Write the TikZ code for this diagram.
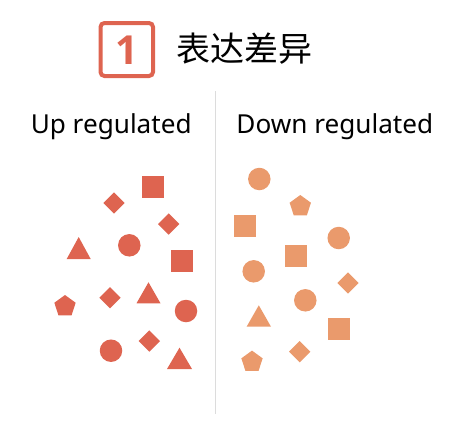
\documentclass[tikz,border=0pt]{standalone}
\usepackage{fontspec}
\setmainfont{Noto Sans}
\newfontfamily\cjk{Noto Sans CJK SC}
\newfontfamily\numfont{Open Sans}
\usetikzlibrary{shapes.geometric}
\definecolor{upc}{HTML}{DE6450}
\definecolor{dnc}{HTML}{EA9A6C}
\definecolor{sepc}{HTML}{DCDCDC}
\begin{document}
\begin{tikzpicture}[x=0.75pt,y=-0.75pt,
  shp/.style={inner sep=0pt,outer sep=0pt,draw=none},
  circ/.style={shp,circle,minimum size=22.5*0.75pt},
  sq/.style={shp,rectangle,minimum size=22*0.75pt},
  dia/.style={shp,diamond,minimum size=21.4*0.75pt},
  pent/.style={shp,regular polygon,regular polygon sides=5,minimum size=22.4*0.75pt},
  lbl/.style={inner sep=0pt,anchor=base,font=\fontsize{19.6}{23}\selectfont}]
\useasboundingbox (0,0) rectangle (464,436);
% header
\draw[upc,line width=4*0.75pt,rounded corners=4*0.75pt] (100.5,23) rectangle (153,76);
\node[inner sep=0pt,text=upc,font=\numfont\bfseries\fontsize{30}{34}\selectfont] (one) at (126.8,50) {1};
\node[inner sep=0pt,anchor=west,font=\cjk\fontsize{25.5}{28}\selectfont] (title) at (176,49) {表达差异};
% labels
\node[lbl] (up) at (111.2,133.3) {Up regulated};
\node[lbl] (down) at (334.8,133.3) {Down regulated};
% separator
\coordinate (s1) at (215.7,91);
\coordinate (s2) at (215.7,414);
\draw[sepc,line width=0.75pt] (s1) -- (s2);
% left shapes
\begin{scope}[every node/.style={fill=upc}]
\node[sq] (l1) at (153,186.7) {};
\node[dia] (l2) at (114,203) {};
\node[dia] (l3) at (168.7,224) {};
\node[circ] (l4) at (129.3,245.3) {};
\node[sq] (l5) at (182,260.7) {};
\node[pent] (l6) at (65,306.2) {};
\node[dia] (l7) at (110,297.7) {};
\node[circ] (l8) at (186,311) {};
\node[circ] (l9) at (111,350.7) {};
\node[dia] (l10) at (149.3,341) {};
\end{scope}
\fill[upc] (78.7,259) ++(-12,0) -- ++(24,0) -- ++(-12,-22) -- cycle;
\fill[upc] (148.5,303.3) ++(-12,0) -- ++(24,0) -- ++(-12,-21) -- cycle;
\fill[upc] (179.5,369) ++(-12.5,0) -- ++(25,0) -- ++(-12.5,-21.3) -- cycle;
% right shapes
\begin{scope}[every node/.style={fill=dnc}]
\node[circ] (r1) at (259.3,179) {};
\node[pent] (r2) at (300.3,206.2) {};
\node[sq] (r3) at (245.3,225.5) {};
\node[circ] (r4) at (338.7,238) {};
\node[sq] (r5) at (296.3,256.2) {};
\node[circ] (r6) at (253.7,271.3) {};
\node[dia] (r7) at (348,283) {};
\node[circ] (r8) at (305.3,300.3) {};
\node[sq] (r9) at (338.8,328.7) {};
\node[dia] (r10) at (299.7,351.7) {};
\node[pent] (r11) at (252,361.8) {};
\end{scope}
\fill[dnc] (258.8,326.7) ++(-12.2,0) -- ++(24.4,0) -- ++(-12.2,-21.4) -- cycle;
\end{tikzpicture}
\end{document}
